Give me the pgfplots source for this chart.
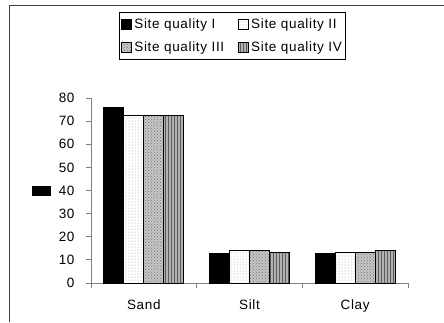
\documentclass[border=0pt]{standalone}
\usepackage{pgfplots}
\pgfplotsset{compat=1.18}
\usepackage{fontspec}
\setmainfont{Liberation Sans}[LetterSpace=5]
\usetikzlibrary{patterns}
\pgfplotsset{sqleg/.style={legend image code/.code={\draw[##1] (0pt,-5pt) rectangle (10pt,5pt);}}}
\begin{document}
\begin{tikzpicture}
\useasboundingbox (0,0) rectangle (444pt,322pt);
\begin{axis}[
  at={(91pt,39pt)}, anchor=south west,
  scale only axis, width=317pt, height=185pt,
  ybar=0pt, bar width=20pt,
  xmin=-0.5, xmax=2.5, ymin=0, ymax=80,
  axis x line*=bottom, axis y line*=left,
  axis line style={gray, line width=0.8pt},
  xtick={0,1,2}, xticklabels={Sand,Silt,Clay},
  minor xtick={-0.5,0.5,1.5,2.5},
  major x tick style={draw=none},
  minor x tick style={gray, line width=0.8pt},
  minor tick length=5pt,
  ytick={0,10,...,80},
  ytick style={gray, line width=0.8pt},
  major tick length=5pt,
  tick align=outside,
  ticklabel style={font=\fontsize{13.5}{16}\selectfont},
  /pgf/number format/assume math mode=true,
  yticklabel style={xshift=-8pt},
  xticklabel style={yshift=-8pt},
  ylabel={\rule{19pt}{10.5pt}},
  every axis y label/.style={at={(axis description cs:0,0.5)}, anchor=center, xshift=-49.5pt, yshift=-0.5pt},
  legend columns=2,
  legend style={at={(0.0883,1.4649)}, anchor=north west, draw=black, line width=0.8pt,
    font=\fontsize{13.5}{16}\selectfont, inner xsep=2pt, inner ysep=4pt, row sep=8pt,
    /tikz/every even column/.append style={column sep=12pt}},
  legend cell align=left,
]
\addplot[sqleg, draw=black, line width=1pt, fill=black] coordinates {(0,76) (1,12.8) (2,12.8)};
\addplot[sqleg, draw=black, line width=1pt, fill=white, postaction={pattern=dots, pattern color=gray!80}] coordinates {(0,72.5) (1,14.0) (2,13.4)};
\addplot[sqleg, draw=black, line width=1pt, fill=gray!45, postaction={pattern=crosshatch dots, pattern color=gray!90!black}] coordinates {(0,72.5) (1,14.0) (2,13.4)};
\addplot[sqleg, draw=black, line width=1pt, fill=gray!60, postaction={pattern=vertical lines, pattern color=black!65}] coordinates {(0,72.5) (1,13.3) (2,14.1)};
\legend{Site quality I, Site quality II, Site quality III, Site quality IV}
\end{axis}
\draw[line width=1.2pt, black!75] (9.5pt,0) -- (9.5pt,316.7pt) -- (444pt,316.7pt);
\end{tikzpicture}
\end{document}
